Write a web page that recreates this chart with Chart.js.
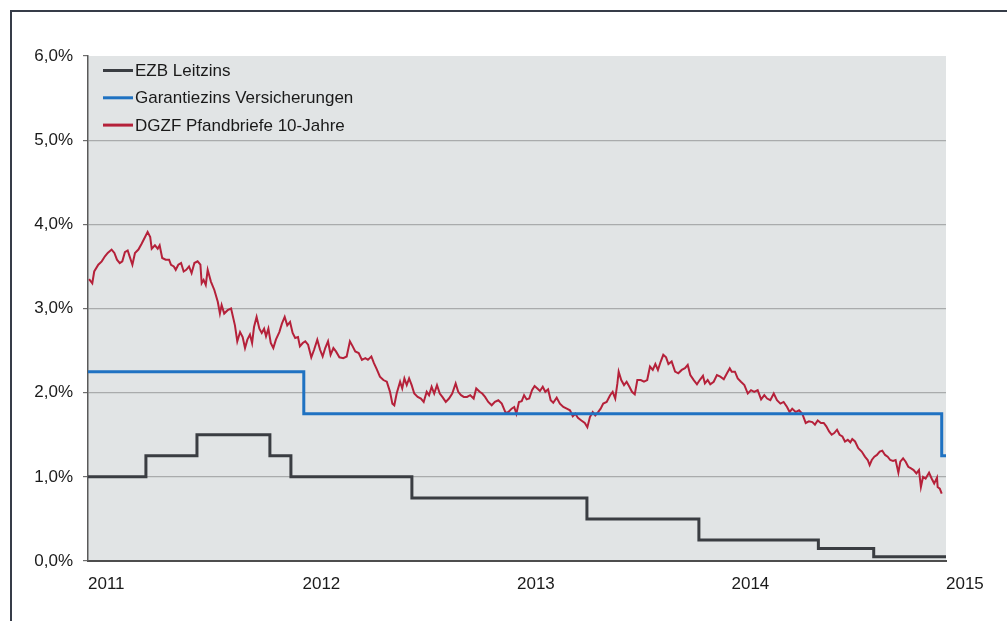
<!DOCTYPE html>
<html><head><meta charset="utf-8">
<script src="https://cdn.jsdelivr.net/npm/chart.js@4.4.1/dist/chart.umd.min.js"></script>
<style>html,body{margin:0;padding:0;background:#fff;} #wrap{position:relative;width:1007px;height:621px;} canvas{display:block;}</style>
</head><body><div id="wrap"><canvas id="c" width="1007" height="621"></canvas></div>
<script>
// ---------- DATA ----------
const startYear = 2011;
const yearTicks = ['2011', '2012', '2013', '2014', '2015'];
const seriesNames = ['EZB Leitzins', 'Garantiezins Versicherungen', 'DGZF Pfandbriefe 10-Jahre'];

// EZB Leitzins: change dates (years since start) and new rate (%)
const ezbT = [0.000, 0.270, 0.508, 0.848, 0.946, 1.510, 2.326, 2.848, 3.405, 3.663, 4.000];
const ezbV = [1.00, 1.25, 1.50, 1.25, 1.00, 0.75, 0.50, 0.25, 0.15, 0.05, 0.05];

// Garantiezins Versicherungen
const garT = [0.000, 1.006, 3.980, 4.000];
const garV = [2.25, 1.75, 1.25, 1.25];

// DGZF Pfandbriefe 10-Jahre (years since start, yield %)
const pfandT = [
0.005,0.020,0.029,0.048,0.064,0.079,0.092,0.110,0.123,0.135,0.148,0.160,0.172,0.185,0.194,0.207,0.219,0.235,0.250,0.266,0.278,0.290,0.297,0.312,0.325,0.334,0.346,0.362,0.378,0.387,0.400,0.409,0.421,0.434,0.446,0.458,0.471,0.483,0.496,0.511,0.524,0.530,0.539,0.549,0.558,0.573,0.589,0.605,0.615,0.623,0.635,0.651,0.667,
0.685,0.696,0.709,0.721,0.732,0.743,0.755,0.765,0.774,0.786,0.799,0.810,0.821,0.830,0.841,0.852,0.864,0.876,0.892,0.904,0.917,0.929,0.942,0.954,0.966,0.979,0.988,1.001,1.013,1.026,1.041,1.054,1.069,1.082,1.094,1.106,1.119,1.131,1.144,1.156,1.172,1.190,1.206,1.221,1.234,1.246,1.262,1.277,1.293,1.305,1.321,1.333,1.346,1.361,
1.377,1.393,1.408,1.419,1.428,1.439,1.455,1.465,1.475,1.486,1.497,1.509,1.521,1.537,1.552,1.565,1.579,1.590,1.602,1.614,1.627,1.640,1.652,1.668,1.683,1.698,1.714,1.726,1.739,1.752,1.767,1.782,1.798,1.810,1.826,1.838,1.851,1.866,1.882,1.897,1.913,1.929,1.947,1.960,1.975,1.987,1.997,2.009,2.022,
2.033,2.045,2.057,2.070,2.082,2.095,2.107,2.120,2.132,2.145,2.157,2.169,2.185,2.200,2.216,2.232,2.247,2.260,2.272,2.284,2.300,2.316,2.328,2.340,2.353,2.365,2.378,2.390,2.402,2.418,2.434,2.446,2.458,2.468,2.474,2.486,2.499,2.511,2.524,2.536,2.549,2.561,2.577,2.592,2.607,2.620,2.633,2.645,2.657,2.670,2.682,2.695,
2.706,2.721,2.737,2.752,2.768,2.783,2.796,2.808,2.824,2.839,2.852,2.867,2.876,2.889,2.901,2.917,2.932,2.948,2.964,2.979,2.992,3.001,3.016,3.029,3.044,3.060,3.076,3.091,3.106,3.122,3.138,3.153,3.166,3.181,3.197,3.212,3.228,3.243,3.259,3.271,3.283,3.299,3.315,3.330,
3.346,3.361,3.377,3.389,3.402,3.417,3.430,3.442,3.455,3.467,3.479,3.492,3.504,3.517,3.529,3.542,3.554,3.563,3.576,3.591,3.607,3.622,3.635,3.644,3.654,3.666,3.678,3.691,3.703,3.716,3.728,3.740,3.753,3.765,3.778,3.787,3.800,3.812,3.824,3.837,3.849,3.862,3.874,3.883,3.893,3.905,3.921,3.933,3.945,3.958,3.961,3.971,3.980
];
const pfandV = [
3.35,3.30,3.44,3.52,3.56,3.62,3.66,3.70,3.66,3.58,3.54,3.56,3.67,3.69,3.62,3.52,3.66,3.70,3.77,3.85,3.91,3.85,3.71,3.75,3.71,3.75,3.60,3.58,3.58,3.52,3.50,3.46,3.52,3.54,3.44,3.46,3.50,3.42,3.54,3.56,3.52,3.30,3.34,3.28,3.46,3.32,3.22,3.08,2.94,3.04,2.94,2.98,3.00,
2.80,2.61,2.72,2.66,2.53,2.63,2.69,2.59,2.78,2.90,2.76,2.71,2.76,2.67,2.76,2.59,2.53,2.63,2.72,2.82,2.90,2.80,2.84,2.71,2.65,2.66,2.55,2.59,2.61,2.57,2.42,2.51,2.63,2.51,2.43,2.53,2.61,2.45,2.53,2.49,2.42,2.41,2.43,2.61,2.55,2.49,2.47,2.39,2.41,2.39,2.43,2.35,2.28,2.19,
2.15,2.13,2.01,1.87,1.85,1.99,2.13,2.05,2.17,2.09,2.17,2.09,1.99,1.95,1.93,1.89,2.01,1.97,2.07,1.99,2.09,1.99,1.95,1.89,1.93,1.99,2.11,2.01,1.97,1.95,1.95,1.97,1.93,2.05,2.01,1.99,1.95,1.89,1.85,1.89,1.91,1.87,1.76,1.77,1.81,1.83,1.75,1.89,1.90,
1.97,1.92,1.93,2.03,2.08,2.05,2.02,2.07,2.01,2.04,1.91,1.88,1.94,1.87,1.83,1.81,1.79,1.72,1.75,1.70,1.67,1.64,1.59,1.71,1.77,1.73,1.77,1.81,1.87,1.89,1.97,2.01,1.93,2.11,2.25,2.15,2.09,2.13,2.07,2.01,1.98,2.15,2.15,2.13,2.15,2.31,2.27,2.34,2.27,2.37,2.45,2.42,
2.34,2.37,2.25,2.23,2.27,2.29,2.33,2.21,2.15,2.10,2.15,2.20,2.11,2.15,2.10,2.13,2.21,2.19,2.16,2.23,2.29,2.25,2.25,2.17,2.13,2.09,1.99,2.03,2.01,2.03,1.92,1.97,1.93,1.91,1.99,1.91,1.87,1.89,1.83,1.77,1.81,1.77,1.79,1.75,
1.64,1.66,1.65,1.62,1.67,1.64,1.64,1.60,1.54,1.50,1.52,1.56,1.50,1.48,1.42,1.44,1.41,1.45,1.42,1.34,1.30,1.24,1.20,1.14,1.20,1.24,1.26,1.30,1.31,1.26,1.24,1.20,1.19,1.20,1.05,1.18,1.22,1.18,1.12,1.10,1.08,1.04,1.08,0.88,1.00,0.98,1.05,0.98,0.92,0.99,0.88,0.86,0.80
];

// ---------- CHART ----------
const toXY = (ts, vs) => ts.map((t, i) => ({ x: startYear + t, y: vs[i] }));
const colors = ['#3a3d42', '#1f72c2', '#b5213a'];
const FONT = '"Liberation Sans", Arial, sans-serif';

const framePlugin = {
  id: 'frame',
  beforeDraw(chart) {
    const { ctx, chartArea: a } = chart;
    ctx.save();
    ctx.fillStyle = '#ffffff';
    ctx.fillRect(0, 0, chart.width, chart.height);
    ctx.strokeStyle = '#363c48';
    ctx.lineWidth = 2;
    ctx.beginPath();
    ctx.moveTo(11, chart.height);
    ctx.lineTo(11, 11);
    ctx.lineTo(chart.width, 11);
    ctx.stroke();
    ctx.fillStyle = '#e1e4e5';
    ctx.fillRect(a.left, a.top, a.right - a.left, a.bottom - a.top);
    ctx.restore();
  }
};

const legendPlugin = {
  id: 'inLegend',
  afterDatasetsDraw(chart) {
    const { ctx, chartArea: a } = chart;
    ctx.save();
    ctx.font = '17px ' + FONT;
    ctx.textBaseline = 'middle';
    ctx.fillStyle = '#1a1a1a';
    chart.data.datasets.forEach((ds, i) => {
      const y = a.top + 14.5 + i * 27.3;
      ctx.strokeStyle = ds.borderColor;
      ctx.lineWidth = 3;
      ctx.beginPath();
      ctx.moveTo(a.left + 15, y);
      ctx.lineTo(a.left + 45, y);
      ctx.stroke();
      ctx.fillText(ds.label, a.left + 47, y + 1);
    });
    ctx.restore();
  }
};

new Chart(document.getElementById('c'), {
  type: 'line',
  data: {
    datasets: [
      { label: seriesNames[0], data: toXY(ezbT, ezbV), borderColor: colors[0], borderWidth: 3, stepped: 'before', pointRadius: 0, fill: false },
      { label: seriesNames[1], data: toXY(garT, garV), borderColor: colors[1], borderWidth: 3, stepped: 'before', pointRadius: 0, fill: false },
      { label: seriesNames[2], data: toXY(pfandT, pfandV), borderColor: colors[2], borderWidth: 2, tension: 0, pointRadius: 0, fill: false }
    ]
  },
  options: {
    responsive: false,
    animation: false,
    devicePixelRatio: 1,
    layout: { padding: { left: 0, right: 61, top: 56, bottom: 0 } },
    plugins: { legend: { display: false }, tooltip: { enabled: false } },
    scales: {
      x: {
        type: 'linear',
        min: startYear,
        max: startYear + yearTicks.length - 1,
        afterBuildTicks(scale) { scale.ticks = yearTicks.map(y => ({ value: Number(y) })); },
        afterFit(scale) { scale.height = 60; },
        grid: { display: false, drawTicks: false },
        border: { display: true, color: '#4d4d4d', width: 2 },
        ticks: {
          autoSkip: false, maxRotation: 0, align: 'start', padding: 13,
          color: '#1a1a1a', font: { family: FONT, size: 17 },
          callback: (v) => String(v)
        }
      },
      y: {
        min: 0, max: 6,
        afterFit(scale) { scale.width = 88; },
        ticks: {
          stepSize: 1, padding: 10, color: '#1a1a1a', font: { family: FONT, size: 17 },
          callback: (v) => v.toFixed(1).replace('.', ',') + '%'
        },
        grid: {
          tickLength: 5,
          tickColor: '#6e6e6e',
          lineWidth: 1.2,
          color: (c) => c.tick && c.tick.value === 6 ? 'rgba(0,0,0,0)' : (c.tick && c.tick.value === 0 ? '#4d4d4d' : '#a9abac')
        },
        border: { display: true, color: '#5a5a5a', width: 1.5 }
      }
    }
  },
  plugins: [framePlugin, legendPlugin]
});
</script></body></html>
